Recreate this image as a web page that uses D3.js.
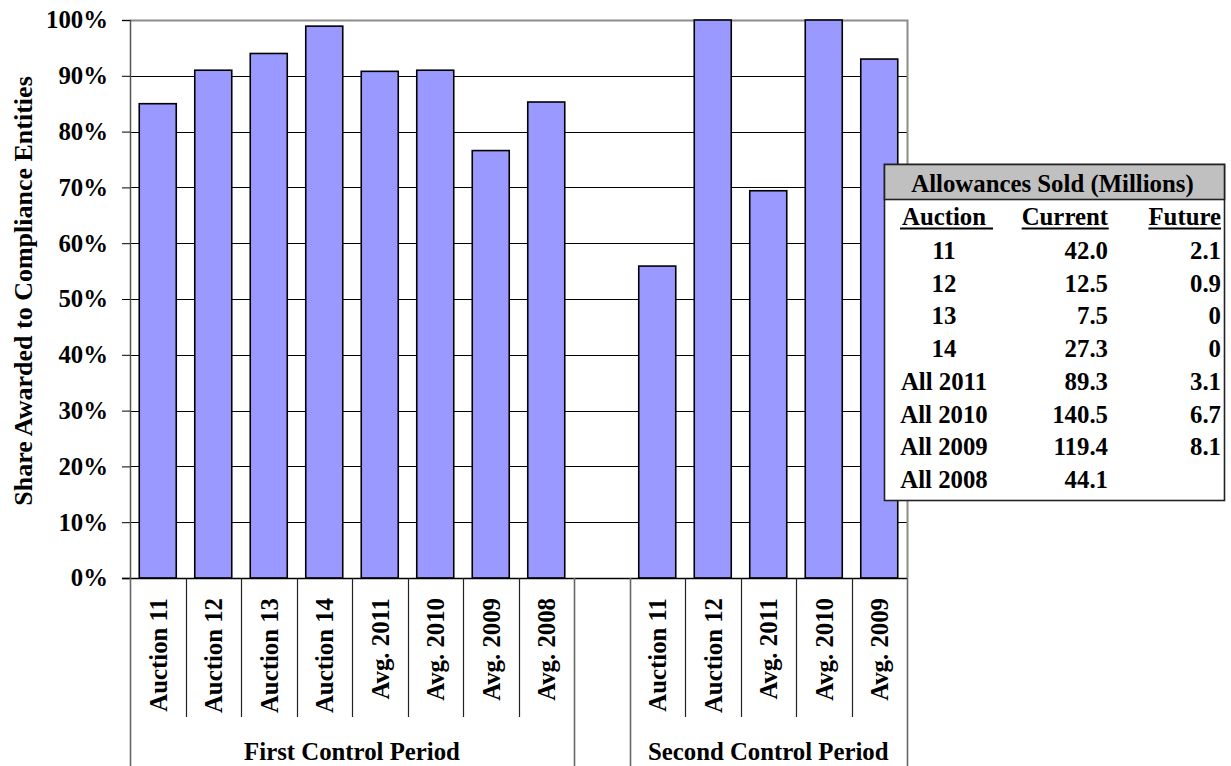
<!DOCTYPE html>
<html>
<head>
<meta charset="utf-8">
<script src="https://cdn.jsdelivr.net/npm/d3@7"></script>
<style>
  html, body { margin: 0; padding: 0; background: #fff; }
  svg { display: block; }
</style>
</head>
<body>
<svg id="chart" width="1231" height="766"></svg>
<script>
// Share of allowances awarded to compliance entities, by auction
const firstPeriodCategories = ["Auction 11", "Auction 12", "Auction 13", "Auction 14", "Avg. 2011", "Avg. 2010", "Avg. 2009", "Avg. 2008"];
const firstPeriodValues = [85.0, 91.0, 94.0, 98.9, 90.8, 91.0, 76.6, 85.3];
const secondPeriodCategories = ["Auction 11", "Auction 12", "Avg. 2011", "Avg. 2010", "Avg. 2009"];
const secondPeriodValues = [55.9, 100, 69.4, 100, 93.0];
const periodLabels = ["First Control Period", "Second Control Period"];
const yTicks = [0, 10, 20, 30, 40, 50, 60, 70, 80, 90, 100];

// Allowances sold table (millions)
const tableTitle = "Allowances Sold (Millions)";
const tableHeaders = ["Auction", "Current", "Future"];
const tableAuction = ["11", "12", "13", "14", "All 2011", "All 2010", "All 2009", "All 2008"];
const tableCurrent = ["42.0", "12.5", "7.5", "27.3", "89.3", "140.5", "119.4", "44.1"];
const tableFuture = ["2.1", "0.9", "0", "0", "3.1", "6.7", "8.1", ""];

const FONT_FAMILY = "'Liberation Serif', 'Times New Roman', Times, serif";
const FONT = 24.8;
const svg = d3.select("#chart");

const plot = { left: 130, right: 907, top: 20, bottom: 578 };

// Groups of slots: first period, one empty spacer slot, second period
const groups = [
  { label: periodLabels[0], cats: firstPeriodCategories, vals: firstPeriodValues },
  { label: "", cats: [""], vals: [null] },
  { label: periodLabels[1], cats: secondPeriodCategories, vals: secondPeriodValues }
];
const slots = [];
groups.forEach((g, gi) => {
  g.cats.forEach((c, i) => slots.push({ key: gi + "|" + i, group: gi, name: c, value: g.vals[i] }));
});

const x = d3.scaleBand()
  .domain(slots.map(d => d.key))
  .range([plot.left, plot.right])
  .paddingInner(1 / 3)
  .paddingOuter(1 / 6);
const step = x.step();
const slotLeft = k => x(k) - step * x.paddingInner() / 2;

const y = d3.scaleLinear().domain([0, 100]).range([plot.bottom, plot.top]);

// Gridlines
svg.append("g")
  .selectAll("line")
  .data(yTicks.filter(t => t > 0 && t < 100))
  .join("line")
  .attr("x1", plot.left).attr("x2", plot.right)
  .attr("y1", d => Math.round(y(d)) + 0.5).attr("y2", d => Math.round(y(d)) + 0.5)
  .attr("stroke", "#000").attr("stroke-width", 1);

// Top and right border of plot area
svg.append("path")
  .attr("d", `M${plot.left},${plot.top + 0.5}H${plot.right + 0.5}V${plot.bottom}`)
  .attr("fill", "none").attr("stroke", "#8c8c8c").attr("stroke-width", 2);

// Bars
svg.append("g")
  .selectAll("rect")
  .data(slots.filter(d => d.value != null))
  .join("rect")
  .attr("x", d => x(d.key))
  .attr("width", x.bandwidth())
  .attr("y", d => y(d.value))
  .attr("height", d => y(0) - y(d.value))
  .attr("fill", "#9999ff")
  .attr("stroke", "#000")
  .attr("stroke-width", 1.6);

// Y axis
const yAxis = svg.append("g")
  .attr("transform", `translate(${plot.left},0)`)
  .call(d3.axisLeft(y).tickValues(yTicks).tickFormat(d => d + "%").tickSize(8).tickPadding(14));
yAxis.select(".domain").attr("stroke", "#555").attr("stroke-width", 1.5);
yAxis.selectAll(".tick line").attr("stroke", "#000");
yAxis.selectAll(".tick text").attr("fill", "#000");

// X baseline
svg.append("line")
  .attr("x1", plot.left - 8).attr("x2", plot.right)
  .attr("y1", plot.bottom + 0.5).attr("y2", plot.bottom + 0.5)
  .attr("stroke", "#000").attr("stroke-width", 1.5);

// Category separators below the axis
const catSepBottom = 717;
const groupStarts = new Set(groups.map((g, gi) => gi + "|0"));
const sepData = slots.map(d => ({ xPos: slotLeft(d.key), full: groupStarts.has(d.key) }));
sepData.push({ xPos: plot.right, full: true });
svg.append("g")
  .selectAll("line")
  .data(sepData)
  .join("line")
  .attr("x1", d => Math.round(d.xPos) + 0.5).attr("x2", d => Math.round(d.xPos) + 0.5)
  .attr("y1", plot.bottom).attr("y2", d => d.full ? 766 : catSepBottom)
  .attr("stroke", d => d.full ? "#666" : "#222")
  .attr("stroke-width", d => d.full ? 1.6 : 1.2);

// Rotated category labels
svg.append("g")
  .selectAll("text")
  .data(slots.filter(d => d.name))
  .join("text")
  .attr("transform", d => `translate(${x(d.key) + x.bandwidth() / 2},598) rotate(-90)`)
  .attr("text-anchor", "end")
  .attr("dy", "0.36em")
  .text(d => d.name);

// Period labels
svg.append("g")
  .selectAll("text")
  .data(groups.filter(g => g.label))
  .join("text")
  .attr("x", g => {
    const gi = groups.indexOf(g);
    return (slotLeft(gi + "|0") + slotLeft(gi + "|" + (g.cats.length - 1)) + step) / 2;
  })
  .attr("y", 760)
  .attr("text-anchor", "middle")
  .text(g => g.label);

// Allowances table
const tb = { left: 884.5, right: 1224.5, top: 164.5, bottom: 500.5, headBottom: 199.5 };
const table = svg.append("g");
table.append("rect")
  .attr("x", tb.left).attr("y", tb.top)
  .attr("width", tb.right - tb.left).attr("height", tb.bottom - tb.top)
  .attr("fill", "#fff").attr("stroke", "#222").attr("stroke-width", 1.6);
table.append("rect")
  .attr("x", tb.left).attr("y", tb.top)
  .attr("width", tb.right - tb.left).attr("height", tb.headBottom - tb.top)
  .attr("fill", "#c0c0c0").attr("stroke", "#222").attr("stroke-width", 1.6);
table.append("text")
  .attr("x", (tb.left + tb.right) / 2 - 2).attr("y", 192)
  .attr("text-anchor", "middle")
  .text(tableTitle);

const colAuction = 944, colCurrent = 1108, colFuture = 1221;
const headerY = 225;
const headerDefs = [
  { text: tableHeaders[0], x: colAuction, anchor: "middle", ulFrom: 900, ulTo: 993 },
  { text: tableHeaders[1], x: colCurrent, anchor: "end" },
  { text: tableHeaders[2], x: colFuture, anchor: "end" }
];
const headerTexts = headerDefs.map(h => table.append("text")
  .attr("x", h.x).attr("y", headerY)
  .attr("text-anchor", h.anchor)
  .text(h.text));

const rowY = d3.scaleLinear().domain([0, tableAuction.length - 1]).range([259, 488]);
const rows = table.append("g")
  .selectAll("g")
  .data(tableAuction.map((a, i) => ({ a, c: tableCurrent[i], f: tableFuture[i], i })))
  .join("g");
rows.append("text")
  .attr("x", colAuction).attr("y", d => rowY(d.i))
  .attr("text-anchor", "middle")
  .text(d => d.a);
rows.append("text")
  .attr("x", colCurrent).attr("y", d => rowY(d.i))
  .attr("text-anchor", "end")
  .text(d => d.c);
rows.append("text")
  .attr("x", colFuture).attr("y", d => rowY(d.i))
  .attr("text-anchor", "end")
  .text(d => d.f);

// Common typography for every text element
svg.selectAll("text")
  .style("font-family", FONT_FAMILY)
  .style("font-weight", "bold")
  .style("font-size", FONT + "px")
  .attr("fill", "#000");

// Y axis title (slightly larger than the rest)
svg.append("text")
  .attr("transform", `translate(23,${(plot.top + plot.bottom) / 2 - 8}) rotate(-90)`)
  .attr("text-anchor", "middle")
  .attr("dy", "0.36em")
  .style("font-family", FONT_FAMILY)
  .style("font-weight", "bold")
  .style("font-size", "26px")
  .attr("fill", "#000")
  .text("Share Awarded to Compliance Entities");

// Header underlines, measured after the font is applied
headerDefs.forEach((h, i) => {
  const bb = headerTexts[i].node().getBBox();
  const x1 = h.ulFrom != null ? h.ulFrom : bb.x;
  const x2 = h.ulTo != null ? h.ulTo : bb.x + bb.width;
  table.append("line")
    .attr("x1", x1).attr("x2", x2)
    .attr("y1", headerY + 3.5).attr("y2", headerY + 3.5)
    .attr("stroke", "#000").attr("stroke-width", 2);
});
</script>
</body>
</html>
